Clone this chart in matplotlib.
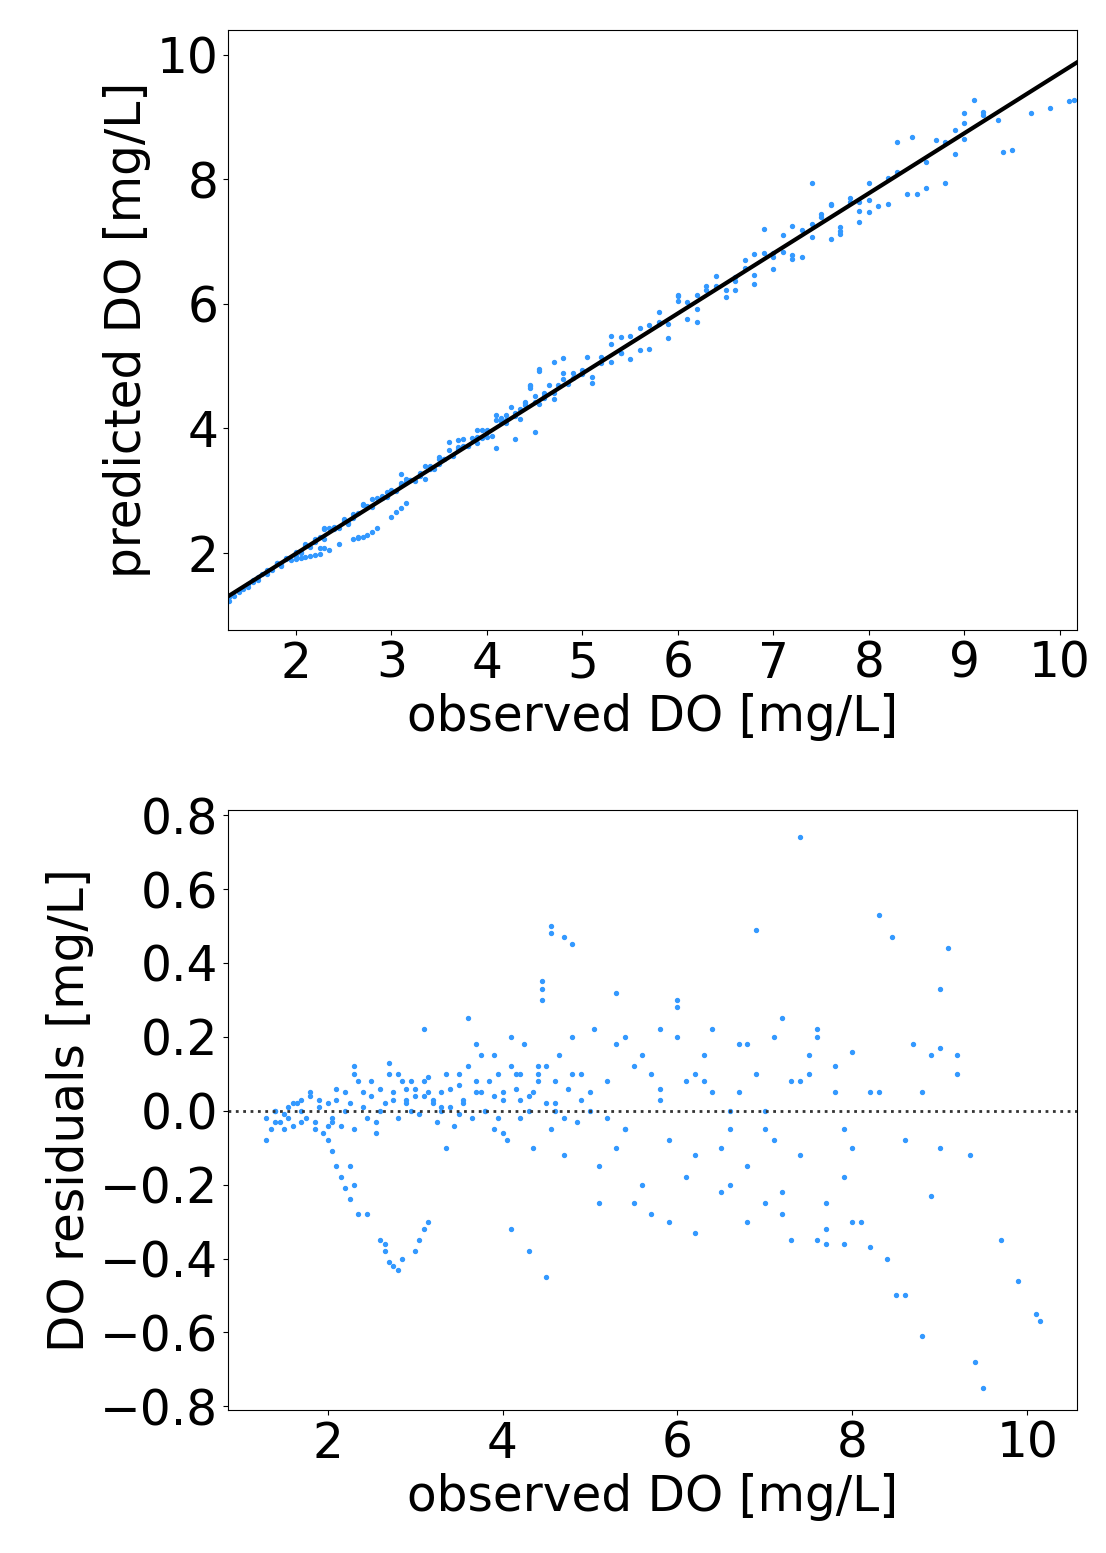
import matplotlib.pyplot as plt

# observed DO and residuals around the fit line
obs = [1.3,1.35,1.4,1.45,1.5,1.55,1.6,1.65,1.7,1.75,1.8,1.85,1.9,1.95,2.0,2.05,2.1,2.15,2.2,2.25,
       2.3,2.35,2.4,2.45,2.5,2.55,2.6,2.65,2.7,2.75,2.8,2.85,2.9,2.95,3.0,3.05,3.1,3.15,3.2,3.25,
       3.3,3.35,3.4,3.45,3.5,3.55,3.6,3.65,3.7,3.75,3.8,3.85,3.9,3.95,4.0,4.05,4.1,4.15,4.2,4.25,
       4.3,4.35,4.4,4.45,4.5,4.55,4.6,4.65,4.7,4.75,4.8,4.85,4.9,5.0,5.05,5.1,5.2,5.3,5.4,5.5,
       5.6,5.7,5.8,5.9,6.0,6.1,6.2,6.3,6.4,6.5,6.6,6.7,6.8,6.9,7.0,7.1,7.2,7.3,7.4,7.5,
       7.6,7.7,7.8,7.9,8.0,8.1,8.3,8.5,8.7,8.9,9.0,9.2,9.4,9.7,9.9,10.1,
       1.3,1.4,1.5,1.6,1.7,1.8,1.9,2.0,2.1,2.2,2.3,2.4,2.5,2.6,2.7,2.8,2.9,3.0,3.1,3.2,
       3.3,3.4,3.5,3.6,3.7,3.8,3.9,4.0,4.1,4.2,4.3,4.4,4.5,4.6,4.7,4.8,5.0,5.2,5.4,5.6,
       5.8,6.0,6.2,6.4,6.6,6.8,7.0,7.2,7.4,7.6,7.8,8.0,8.2,8.4,8.6,8.8,9.0,9.2,
       2.0,2.05,2.1,2.15,2.2,2.25,2.3,2.35,2.6,2.65,2.7,2.75,2.8,2.85,3.0,3.05,3.1,3.15,
       4.1,4.3,4.5,4.45,4.55,4.7,4.8,5.3,5.4,5.5,5.7,5.9,6.2,6.5,6.8,7.0,7.3,7.6,7.7,7.9,8.0,
       8.2,8.6,8.8,9.0,9.1,9.35,9.5,10.15,7.4,8.3,8.45,8.9,6.9,4.55,4.45,5.1,6.0,6.1,6.6,7.2,7.7,
       1.4,1.55,1.7,1.85,2.05,2.3,2.55,2.75,2.95,3.15,3.35,3.55,3.75,3.95,4.15,4.35,4.6,4.9,5.3,5.8,
       6.3,6.7,7.1,7.5,7.9,2.25,2.45,2.65,2.9,3.1,3.3,3.5,3.7,3.9,4.0,4.2,4.4]
res = [-0.02,-0.05,0.0,-0.03,-0.01,0.01,-0.04,0.02,0.0,-0.02,0.04,-0.03,0.01,-0.06,0.02,-0.02,0.03,-0.04,0.05,0.02,
       -0.05,0.08,0.01,-0.02,0.04,-0.03,0.06,0.02,0.1,0.05,-0.02,0.08,0.03,0.0,0.06,-0.01,0.04,0.09,0.02,-0.03,
       0.05,0.1,0.01,-0.04,0.07,0.03,0.12,-0.02,0.05,0.15,0.0,0.08,-0.05,0.1,0.03,-0.08,0.12,0.06,-0.02,0.18,
       0.04,-0.1,0.08,0.3,0.12,-0.05,0.02,0.15,-0.12,0.06,0.2,-0.03,0.1,0.0,0.22,-0.15,0.08,0.18,-0.05,0.12,
       -0.2,0.1,0.03,-0.08,0.2,0.08,-0.12,0.15,0.05,-0.1,0.0,0.18,-0.15,0.1,-0.05,0.2,-0.22,0.08,-0.12,0.15,
       0.22,-0.25,0.05,-0.18,0.16,-0.3,0.05,-0.5,0.18,0.15,0.33,0.1,-0.68,-0.35,-0.46,-0.55,
       -0.08,0.0,-0.05,0.02,-0.03,0.05,0.03,-0.04,0.06,0.0,0.12,0.05,0.08,0.0,0.13,0.1,0.06,0.04,0.08,0.03,
       0.0,0.06,0.1,0.25,0.08,0.0,0.15,0.05,0.2,0.1,0.0,0.12,0.02,0.08,-0.02,0.1,0.05,-0.02,0.2,0.15,
       0.22,0.3,0.1,0.22,-0.05,0.18,0.0,0.25,0.08,0.2,0.12,-0.1,0.05,-0.4,-0.08,0.05,-0.1,0.15,
       -0.08,-0.11,-0.15,-0.18,-0.21,-0.24,-0.2,-0.28,-0.35,-0.38,-0.41,-0.42,-0.43,-0.4,-0.38,-0.35,-0.32,-0.3,
       -0.32,-0.38,-0.45,0.33,0.5,0.47,0.45,0.32,-0.05,-0.25,-0.28,-0.3,-0.33,-0.22,-0.3,-0.25,-0.35,-0.35,-0.32,-0.36,-0.3,
       -0.37,-0.5,-0.61,0.17,0.44,-0.12,-0.75,-0.57,0.74,0.53,0.47,-0.23,0.49,0.48,0.35,-0.25,0.28,-0.18,-0.2,-0.28,-0.36,
       -0.03,-0.02,0.03,-0.05,-0.03,0.1,-0.06,0.03,0.08,0.05,-0.1,0.02,0.05,-0.02,0.1,0.05,0.0,0.03,-0.1,0.06,
       0.08,0.05,-0.08,0.1,-0.05,-0.15,-0.28,-0.36,0.02,0.22,0.01,-0.01,0.18,0.04,-0.06,0.03,0.1]

# fit line end points
fit_x = [1.29, 10.18]
fit_y = [1.30, 9.88]
slope = (fit_y[1] - fit_y[0]) / (fit_x[1] - fit_x[0])
pred = [fit_y[0] + slope * (o - fit_x[0]) + r for o, r in zip(obs, res)]

blue = '#3399ff'
fig = plt.figure(figsize=(11.06, 15.53), dpi=100)
fs = 35

ax1 = fig.add_axes([228/1106, 1-630/1553, 849/1106, 600/1553])
ax1.scatter(obs, pred, s=8, color=blue)
ax1.plot(fit_x, fit_y, color='black', lw=3)
ax1.set_xlim(1.29, 10.18)
ax1.set_ylim(0.76, 10.4)
ax1.set_xticks(range(2, 11))
ax1.set_yticks([2, 4, 6, 8, 10])
ax1.tick_params(labelsize=fs)
ax1.set_xlabel('observed DO [mg/L]', fontsize=fs)
ax1.set_ylabel('predicted DO [mg/L]', fontsize=fs)

ax2 = fig.add_axes([228/1106, 1-1410/1553, 849/1106, 600/1553])
ax2.scatter(obs, res, s=8, color=blue)
ax2.axhline(0, color='#333333', ls=':', lw=2)
ax2.set_xlim(0.86, 10.57)
ax2.set_ylim(-0.81, 0.814)
ax2.set_xticks([2, 4, 6, 8, 10])
ax2.set_yticks([-0.8, -0.6, -0.4, -0.2, 0.0, 0.2, 0.4, 0.6, 0.8])
ax2.tick_params(labelsize=fs)
ax2.set_xlabel('observed DO [mg/L]', fontsize=fs)
ax2.set_ylabel('DO residuals [mg/L]', fontsize=fs)

fig.savefig('out.png')
